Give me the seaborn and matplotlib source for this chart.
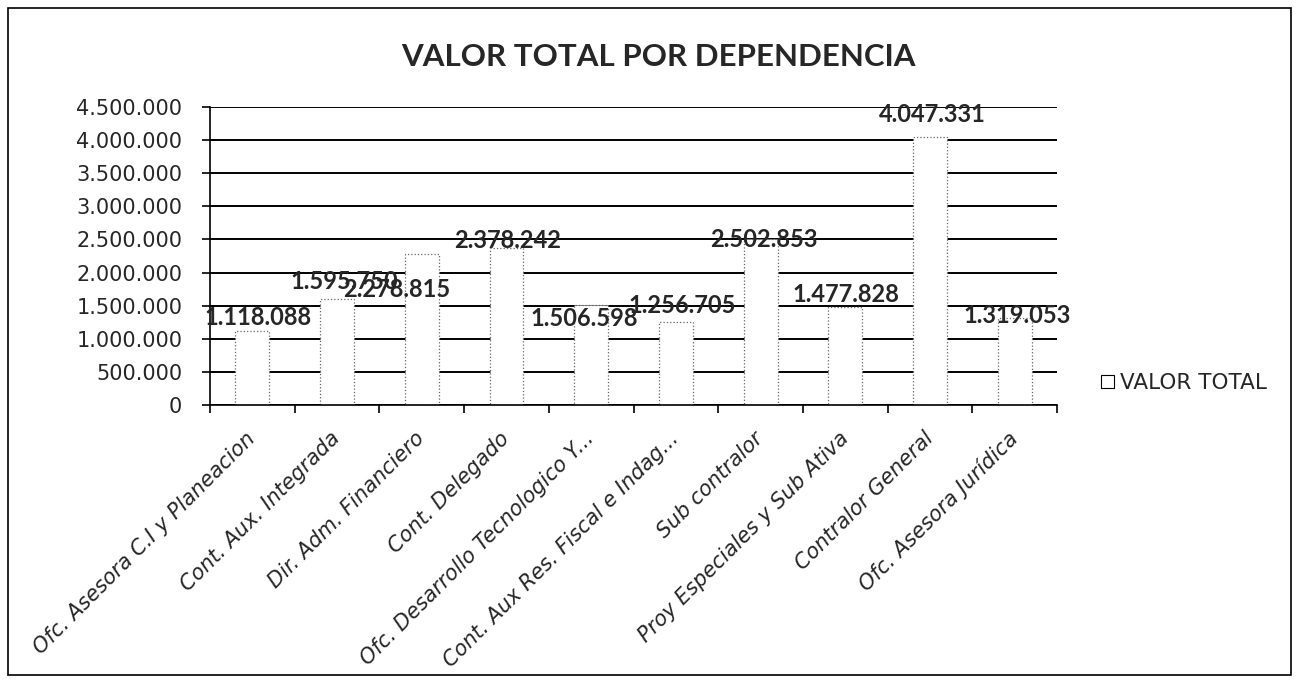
import matplotlib
matplotlib.use("Agg")
import matplotlib.pyplot as plt
import matplotlib.patches as mpatches
import matplotlib.transforms as mtransforms
from matplotlib.ticker import FuncFormatter, MultipleLocator, FixedLocator
import pandas as pd
import seaborn as sns

# datos
dependencias = [
    "Ofc. Asesora C.I y Planeacion",
    "Cont. Aux. Integrada",
    "Dir. Adm. Financiero",
    "Cont. Delegado",
    "Ofc. Desarrollo Tecnologico Y...",
    "Cont. Aux Res. Fiscal e Indag...",
    "Sub contralor",
    "Proy Especiales y Sub Ativa",
    "Contralor General",
    "Ofc. Asesora Jurídica",
]
valor_total = [1118088, 1595750, 2278815, 2378242, 1506598,
               1256705, 2502853, 1477828, 4047331, 1319053]

# desplazamiento de las etiquetas (px) como en el original de Excel
label_dx = [6, 7, -25, 1, -7, 6, 3, 1, 2, 3]
label_dy = [13, 18, -35, 7, -13, 16, 0, 13, 23, 2]

df = pd.DataFrame({"dependencia": dependencias, "valor": valor_total})


def miles(v, pos=None):
    return f"{int(v):,}".replace(",", ".")


sns.set_style("white")
plt.rcParams["font.family"] = ["DejaVu Sans"]

fig = plt.figure(figsize=(13.03, 6.83), dpi=100)
ax = fig.add_axes([0.1612, 0.407, 0.65, 0.4363])

# líneas de división detrás de las barras
ax.set_axisbelow(True)
ax.yaxis.grid(True, color="black", lw=1.4)

sns.barplot(data=df, x="dependencia", y="valor", color="white", width=0.4,
            edgecolor="#666666", linewidth=0.9, linestyle=":",
            saturation=1, ax=ax)
for p in ax.patches:
    p.set_facecolor("white")
    p.set_alpha(1)
    p.set_zorder(3)

ax.set_ylim(0, 4500000)
ax.set_xlim(-0.5, len(dependencias) - 0.5)
ax.yaxis.set_major_locator(MultipleLocator(500000))
ax.yaxis.set_major_formatter(FuncFormatter(miles))
ax.set_xlabel("")
ax.set_ylabel("")

for s in ["top", "right"]:
    ax.spines[s].set_visible(False)
for s in ["left", "bottom"]:
    ax.spines[s].set_color("black")
    ax.spines[s].set_linewidth(1.2)
    ax.spines[s].set_zorder(4)

ax.tick_params(axis="y", direction="out", length=6, width=1.2, color="black",
               pad=14, labelsize=15, left=True)
ax.xaxis.set_minor_locator(FixedLocator([i - 0.5 for i in range(len(dependencias) + 1)]))
ax.tick_params(axis="x", which="minor", direction="out", length=6, width=1.2,
               color="black", bottom=True)
ax.tick_params(axis="x", which="major", length=0, pad=22)

plt.setp(ax.get_xticklabels(), rotation=45, ha="right", va="center",
         rotation_mode="anchor", fontsize=15, style="italic")

# etiquetas de datos
for i, v in enumerate(valor_total):
    off = mtransforms.offset_copy(ax.transData, fig=fig,
                                  x=label_dx[i] * 0.72, y=label_dy[i] * 0.72,
                                  units="points")
    ax.text(i, v, miles(v), transform=off, ha="center", va="center",
            fontsize=17, fontweight="bold", family="Lato", zorder=5)

fig.text(0.505, 0.917, "VALOR TOTAL POR DEPENDENCIA", ha="center", va="center",
         fontsize=22.5, fontweight="bold", family="Lato")

# leyenda
handle = mpatches.Patch(facecolor="white", edgecolor="black", linewidth=0.8,
                        label="VALOR TOTAL")
fig.legend(handles=[handle], loc="center left", bbox_to_anchor=(0.83, 0.439),
           frameon=False, fontsize=15.5, handlelength=0.6, handleheight=0.6,
           handletextpad=0.3)

# borde del gráfico
fig.patches.append(mpatches.Rectangle((0.006, 0.011), 0.985, 0.977,
                                      transform=fig.transFigure, fill=False,
                                      edgecolor="black", linewidth=1.2))

fig.savefig("out.png", dpi=100)
